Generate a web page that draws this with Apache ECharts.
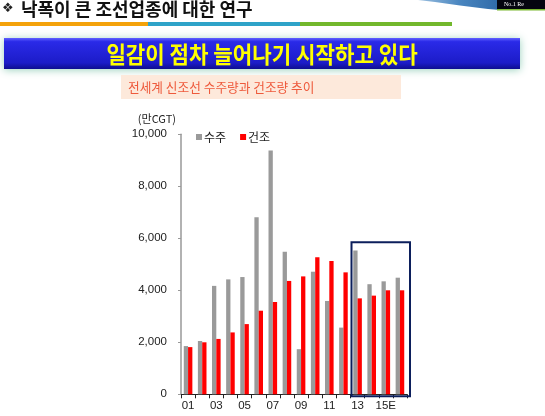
<!DOCTYPE html>
<html><head><meta charset="utf-8">
<script src="https://cdn.jsdelivr.net/npm/echarts@6/dist/echarts.min.js"></script>
<style>html,body{margin:0;padding:0;background:#fff;}#c{width:545px;height:416px;}</style>
</head><body><div id="c"></div>
<script>
var categories = ['01','02','03','04','05','06','07','08','09','10','11','12','13','14','15E','16E'];
var orders     = [1855,2050,4170,4420,4510,6810,9380,5485,1735,4715,3590,2565,5530,4235,4345,4485];
var deliveries = [1815,2000,2130,2380,2700,3215,3550,4360,4535,5270,5130,4690,3690,3795,4000,4000];
var seriesNames = ['수주','건조'];
var yTicks = {min:0, max:10000, interval:2000};
var highlightFrom = '13', highlightTo = '16E', highlightTop = 5850;

var FONT = '"Liberation Sans","Noto Sans CJK KR",Arial,sans-serif';
var KFONT = '"Noto Sans CJK KR","Liberation Sans",sans-serif';
var chart = echarts.init(document.getElementById('c'), null, {renderer:'canvas'});
var option = {
  animation:false,
  backgroundColor:'#ffffff',
  textStyle:{fontFamily:FONT},
  graphic:[
    {type:'polygon', shape:{points:[[418,0],[500,0],[500,10],[488,9],[460,5.5],[435,2]]},
      style:{fill:new echarts.graphic.LinearGradient(0,0,1,0,[{offset:0,color:'#9cc0e0'},{offset:0.5,color:'#4a86c0'},{offset:1,color:'#2f6aa8'}])}},
    {type:'rect', shape:{x:497,y:0,width:48,height:9}, style:{fill:'#05050f'}},
    {type:'rect', shape:{x:497,y:9,width:48,height:1.5}, style:{fill:'#7ab830'}},
    {type:'text', x:504, y:1, style:{text:'No.1 Re', fill:'#ffffff', font:'6px "Liberation Serif",serif'}},
    {type:'text', x:2, y:9, style:{text:'❖', fill:'#222', font:'13px "DejaVu Sans",sans-serif', verticalAlign:'middle'}},
    {type:'text', x:21, y:9, style:{text:'낙폭이 큰 조선업종에 대한 연구', fill:'#111', font:'bold 18px '+KFONT, verticalAlign:'middle'}},
    {type:'rect', shape:{x:0,y:22,width:148,height:4}, style:{fill:'#f4a20a'}},
    {type:'rect', shape:{x:148,y:22,width:152,height:4}, style:{fill:'#2ea3c8'}},
    {type:'rect', shape:{x:300,y:22,width:152,height:4}, style:{fill:'#72b82c'}},
    {type:'rect', shape:{x:4,y:38,width:516,height:31},
      style:{fill:new echarts.graphic.LinearGradient(0,0,0,1,[{offset:0,color:'#6060ff'},{offset:0.12,color:'#2a2ae8'},{offset:0.8,color:'#1c1cc8'},{offset:1,color:'#0e0e90'}]),
        shadowBlur:8, shadowColor:'rgba(110,190,160,0.7)', shadowOffsetX:0, shadowOffsetY:1}},
    {type:'text', x:262, y:54, scaleX:0.92, originX:0, originY:0,
      style:{text:'일감이 점차 늘어나기 시작하고 있다', fill:'#ffff00', font:'bold 23px '+KFONT, align:'center', verticalAlign:'middle'}},
    {type:'rect', shape:{x:121,y:75,width:280,height:24}, style:{fill:'#fde9db'}},
    {type:'text', x:128, y:87, style:{text:'전세계 신조선 수주량과 건조량 추이', fill:'#ee5a3c', font:'12.7px '+KFONT, verticalAlign:'middle'}}
  ],
  legend:{
    left:191, top:126, itemWidth:6, itemHeight:6, itemGap:14, icon:'rect',
    textStyle:{fontFamily:KFONT, fontSize:12, color:'#222', padding:[0,0,0,-3]},
    data:seriesNames
  },
  grid:{left:181, right:138, top:134.3, bottom:21.7, containLabel:false},
  xAxis:{
    type:'category', data:categories,
    axisLine:{lineStyle:{color:'#222', width:1}},
    axisTick:{show:true, interval:0, length:4, lineStyle:{color:'#222'}},
    axisLabel:{interval:1, color:'#222', fontSize:11.5, fontFamily:FONT, margin:6},
    splitLine:{show:false}
  },
  yAxis:{
    type:'value', min:yTicks.min, max:yTicks.max, interval:yTicks.interval,
    name:'(만CGT)', nameLocation:'end', nameGap:10,
    nameTextStyle:{fontFamily:KFONT, fontSize:11, color:'#222', align:'right', padding:[0,5,0,0]},
    axisLine:{show:true, lineStyle:{color:'#999', width:1.5}},
    axisTick:{show:true, length:3, lineStyle:{color:'#999'}},
    axisLabel:{color:'#222', fontSize:11.5, fontFamily:FONT, margin:14,
      formatter:function(v){return v.toLocaleString('en-US');}},
    splitLine:{show:false}
  },
  series:[
    {name:seriesNames[0], type:'bar', data:orders, barWidth:4.3, barGap:'0%', itemStyle:{color:'#9a9a9a'}},
    {name:seriesNames[1], type:'bar', data:deliveries, barWidth:4.3, barGap:'0%', itemStyle:{color:'#ff0000'}}
  ]
};
chart.setOption(option);

var xa = chart.convertToPixel({xAxisIndex:0}, highlightFrom);
var xb = chart.convertToPixel({xAxisIndex:0}, categories[categories.indexOf(highlightFrom)+1]);
var band = xb - xa;
var xe = chart.convertToPixel({xAxisIndex:0}, highlightTo);
var yt = chart.convertToPixel({yAxisIndex:0}, highlightTop);
var y0 = chart.convertToPixel({yAxisIndex:0}, 0);
var bx0 = xa - band/2 + 1, bx1 = xe + band/2 + 3;
chart.setOption({graphic:[{id:'hbox', type:'rect', z:100,
  shape:{x:bx0, y:yt, width:bx1-bx0, height:(y0+2)-yt},
  style:{fill:'none', stroke:'#0c1f5c', lineWidth:2}}]});
</script></body></html>
